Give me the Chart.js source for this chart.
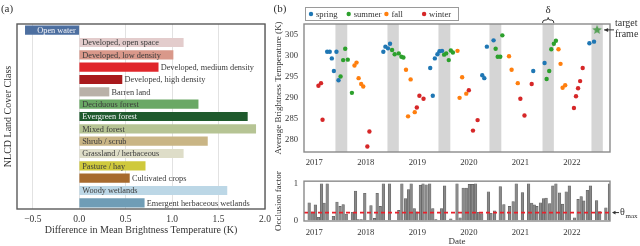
<!DOCTYPE html>
<html>
<head>
<meta charset="utf-8">
<script src="https://cdn.jsdelivr.net/npm/chart.js@4"></script>
<style>
  html, body { margin: 0; padding: 0; background: #fff; }
  #wrap { position: relative; width: 640px; height: 246px; overflow: hidden; }
  canvas { position: absolute; }
</style>
</head>
<body>
<div id="wrap">
  <canvas id="chartA" width="290" height="246" style="left:0;top:0;width:290px;height:246px"></canvas>
  <canvas id="chartB" width="390" height="172" style="left:250px;top:0;width:390px;height:172px"></canvas>
  <canvas id="chartOcc" width="390" height="80" style="left:250px;top:170px;width:390px;height:80px"></canvas>
</div>
<script>
// --- (a) land cover classes
const landClasses = ['Open water', 'Developed, open space', 'Developed, low density',
  'Developed, medium density', 'Developed, high density', 'Barren land', 'Deciduous forest',
  'Evergreen forest', 'Mixed forest', 'Shrub / scrub', 'Grassland / herbaceous', 'Pasture / hay',
  'Cultivated crops', 'Woody wetlands', 'Emergent herbaceous wetlands'];
const tempDiff = [-0.58, 1.12, 1.01, 0.85, 0.46, 0.32, 1.28, 1.81, 1.90, 1.38, 1.12, 0.71, 0.54, 1.59, 0.70];
const classColors = ['#4d6fa0', '#e3cccc', '#d9988a', '#e0262b', '#a8191c', '#b9b1a8', '#6aa865',
  '#1f5a2d', '#b6c494', '#c9b585', '#deddc8', '#cfc93c', '#a76a2e', '#bcd7e6', '#6f9db6'];
const diffTicks = [-0.5, 0, 0.5, 1.0, 1.5, 2.0];

// --- (b) brightness temperature by season, [year, K]
const springObs = [[2017.25, 301.0], [2017.30, 301.0], [2017.34, 299.4], [2017.38, 296.4], [2017.43, 301.0],
  [2017.47, 294.2], [2018.34, 301.0], [2018.38, 302.2], [2018.43, 301.8], [2018.47, 302.9],
  [2019.25, 297.1], [2019.30, 290.5], [2019.34, 299.4], [2019.39, 300.4], [2019.43, 301.1], [2019.48, 301.2],
  [2020.26, 295.4], [2020.30, 294.7], [2020.35, 302.2], [2020.48, 303.7], [2021.25, 296.4], [2021.47, 298.3],
  [2022.34, 303.0], [2022.43, 303.4]];
const summerObs = [[2017.51, 295.1], [2017.56, 299.0], [2017.60, 301.7], [2017.65, 299.1], [2017.73, 291.2],
  [2018.51, 301.4], [2018.56, 300.4], [2018.64, 300.6], [2018.69, 299.8], [2018.73, 299.6],
  [2019.52, 300.3], [2019.56, 300.6], [2019.61, 299.0], [2019.65, 301.3], [2019.69, 300.8],
  [2020.52, 301.7], [2020.56, 299.8], [2020.61, 299.8], [2020.65, 304.9],
  [2021.51, 294.5], [2021.56, 296.4], [2021.60, 301.6], [2021.65, 302.9], [2021.69, 303.6]];
const fallObs = [[2017.78, 297.7], [2017.82, 298.4], [2017.86, 294.7], [2017.91, 293.3], [2017.95, 292.7],
  [2018.78, 296.7], [2018.82, 285.6], [2018.87, 294.4], [2018.95, 286.6],
  [2019.78, 301.2], [2019.82, 290.0], [2019.87, 294.9], [2019.95, 291.0],
  [2020.78, 299.9], [2020.83, 296.7], [2020.95, 293.5],
  [2021.74, 301.6], [2021.78, 298.1], [2021.82, 292.4], [2021.87, 293.0]];
const winterObs = [[2017.08, 292.9], [2017.13, 293.5], [2017.16, 284.8], [2018.03, 278.4], [2018.07, 282.0],
  [2018.99, 287.7], [2019.04, 290.5], [2019.12, 289.8], [2020.00, 291.8], [2020.08, 282.2], [2020.17, 284.7],
  [2021.00, 289.8], [2021.08, 285.8], [2021.22, 293.3], [2022.04, 287.6], [2022.08, 290.4],
  [2022.12, 292.3], [2022.16, 294.0], [2022.21, 297.1]];
const targetObs = [[2022.49, 306.2]];
const gapStart = [2017.41, 2018.42, 2019.41, 2020.40, 2021.43, 2022.38];
const gapEnd = [2017.64, 2018.64, 2019.64, 2020.63, 2021.65, 2022.60];
const yearTicks = [2017, 2018, 2019, 2020, 2021, 2022];
const tempTicks = [280, 285, 290, 295, 300, 305];

// --- occlusion factor per acquisition
const occDates = [2016.90, 2016.96, 2017.02, 2017.08, 2017.14, 2017.19, 2017.25, 2017.37, 2017.44, 2017.50,
  2017.56, 2017.62, 2017.74, 2017.80, 2017.85, 2017.91, 2017.98, 2018.10, 2018.17, 2018.22, 2018.28, 2018.34,
  2018.46, 2018.64, 2018.70, 2018.77, 2018.83, 2018.88, 2018.94, 2018.99, 2019.06, 2019.11, 2019.17, 2019.24,
  2019.30, 2019.36, 2019.47, 2019.53, 2019.65, 2019.77, 2019.83, 2019.89, 2019.95, 2020.01, 2020.07, 2020.13,
  2020.19, 2020.25, 2020.38, 2020.43, 2020.50, 2020.61, 2020.68, 2020.79, 2020.86, 2020.92, 2021.04, 2021.16,
  2021.22, 2021.27, 2021.32, 2021.39, 2021.45, 2021.50, 2021.57, 2021.63, 2021.69, 2021.76, 2021.82, 2021.89,
  2021.95, 2022.05, 2022.12, 2022.18, 2022.23, 2022.30, 2022.36, 2022.48, 2022.54, 2022.66, 2022.73];
const occValues = [0.48, 0.23, 0.42, 0.08, 1.0, 0.47, 1.0, 0.11, 0.50, 0.38,
  0.43, 0.17, 0.22, 0.80, 0.02, 0.02, 0.74, 0.40, 0.05, 0.74, 0.38, 1.0,
  1.0, 0.27, 1.0, 0.59, 0.84, 1.0, 0.32, 0.23, 0.96, 1.0, 0.97, 1.0,
  0.32, 0.02, 0.32, 0.94, 0.04, 1.0, 0.07, 0.88, 0.88, 0.98, 0.98, 1.0,
  0.22, 0.18, 0.78, 0.19, 0.26, 0.92, 0.43, 0.38, 0.51, 1.0, 0.76, 1.0,
  0.47, 0.42, 0.38, 0.48, 0.59, 0.61, 0.46, 0.94, 1.0, 0.75, 0.44, 0.78,
  0.94, 0.07, 0.57, 0.65, 0.53, 0.82, 0.94, 0.54, 0.24, 0.34, 1.0];
const thetaMax = 0.21;

const X_MIN = 2016.8, X_MAX = 2022.74;

Chart.defaults.font.family = "'Liberation Serif', 'DejaVu Serif', serif";
Chart.defaults.color = '#333';
Chart.defaults.animation = false;

const toXY = arr => arr.map(([x, y]) => ({ x, y }));
const noGrid = { display: false, drawTicks: false };

// box around the plot area
function framePlugin(color, width) {
  return {
    id: 'frame',
    afterDraw(chart) {
      const { ctx, chartArea: a } = chart;
      ctx.save();
      ctx.strokeStyle = color;
      ctx.lineWidth = width;
      ctx.strokeRect(a.left, a.top, a.right - a.left, a.bottom - a.top);
      ctx.restore();
    }
  };
}

function tagPlugin(text, x, y) {
  return {
    id: 'tag',
    afterDraw(chart) {
      const ctx = chart.ctx;
      ctx.save();
      ctx.font = "11px 'Liberation Serif'";
      ctx.fillStyle = '#333';
      ctx.textAlign = 'center';
      ctx.textBaseline = 'middle';
      ctx.fillText(text, x, y);
      ctx.restore();
    }
  };
}

function luminance(hex) {
  const n = parseInt(hex.slice(1), 16);
  return (0.299 * (n >> 16) + 0.587 * ((n >> 8) & 255) + 0.114 * (n & 255)) / 255;
}

// class names inside the bar when they fit, otherwise after it
const barLabels = {
  id: 'barLabels',
  afterDatasetsDraw(chart) {
    const ctx = chart.ctx;
    const meta = chart.getDatasetMeta(0);
    ctx.save();
    ctx.font = "8.3px 'Liberation Serif'";
    ctx.textBaseline = 'middle';
    meta.data.forEach((bar, i) => {
      const text = chart.data.labels[i];
      const w = ctx.measureText(text).width;
      const len = Math.abs(bar.x - bar.base);
      const neg = bar.x < bar.base;
      if (w + 5 < len) {
        ctx.fillStyle = luminance(classColors[i]) < 0.45 ? '#f4f4f8' : '#3a3a3a';
        ctx.textAlign = neg ? 'right' : 'left';
        ctx.fillText(text, neg ? bar.base - 3 : bar.base + 2.5, bar.y + 0.5);
      } else {
        ctx.fillStyle = '#3a3a3a';
        ctx.textAlign = 'left';
        ctx.fillText(text, bar.x + 2.5, bar.y + 0.5);
      }
    });
    ctx.restore();
  }
};

new Chart(document.getElementById('chartA'), {
  type: 'bar',
  data: {
    labels: landClasses,
    datasets: [{ data: tempDiff, backgroundColor: classColors, barThickness: 8.5, borderWidth: 0 }]
  },
  options: {
    indexAxis: 'y',
    responsive: false,
    layout: { padding: { top: 24, right: 25, left: 0, bottom: 0 } },
    plugins: { legend: { display: false }, tooltip: { enabled: false } },
    scales: {
      x: {
        type: 'linear', min: -0.67, max: 2.0,
        afterBuildTicks: s => { s.ticks = diffTicks.map(v => ({ value: v })); },
        grid: { color: '#e2e2e2', drawTicks: false },
        border: { display: false },
        ticks: { padding: 5, font: { size: 9.5 }, callback: v => (v < 0 ? '\u2212' : '') + Math.abs(v).toFixed(1) },
        title: { display: true, text: 'Difference in Mean Brightness Temperature (K)', font: { size: 10 }, padding: { top: 0, bottom: 10 } },
        afterFit: s => { s.height = 37; }
      },
      y: {
        ticks: { display: false },
        grid: noGrid,
        border: { display: false },
        title: { display: true, text: 'NLCD Land Cover Class', font: { size: 10 }, padding: { top: 2, bottom: 0 } },
        afterFit: s => { s.width = 17; }
      }
    }
  },
  plugins: [framePlugin('#5a5a5a', 1.4), barLabels, tagPlugin('(a)', 7, 9)]
});

// --- (b) scatter
const seasonNames = ['spring', 'summer', 'fall', 'winter'];
const seasonColors = ['#1f77b4', '#2ca02c', '#ff7f0e', '#d62728'];

function starImage(color, r) {
  const c = document.createElement('canvas');
  c.width = c.height = r * 2 + 2;
  const g = c.getContext('2d');
  g.beginPath();
  for (let i = 0; i < 10; i++) {
    const rad = i % 2 ? r * 0.45 : r;
    const a = -Math.PI / 2 + i * Math.PI / 5;
    g.lineTo(c.width / 2 + rad * Math.cos(a), c.height / 2 + rad * Math.sin(a));
  }
  g.closePath();
  g.fillStyle = color;
  g.fill();
  return c;
}

const gapBands = {
  id: 'gapBands',
  beforeDatasetsDraw(chart) {
    const { ctx, chartArea: a, scales: { x } } = chart;
    ctx.save();
    ctx.fillStyle = '#d5d5d5';
    gapStart.forEach((s, i) => {
      const x0 = x.getPixelForValue(s), x1 = x.getPixelForValue(gapEnd[i]);
      ctx.fillRect(x0, a.top, x1 - x0, a.bottom - a.top);
    });
    ctx.restore();
  }
};

const seasonLegend = {
  id: 'seasonLegend',
  afterDraw(chart) {
    const ctx = chart.ctx;
    ctx.save();
    ctx.strokeStyle = '#9a9a9a';
    ctx.lineWidth = 1;
    ctx.strokeRect(55.5, 7.5, 153, 13);
    ctx.font = "8.6px 'Liberation Serif'";
    ctx.textBaseline = 'middle';
    ctx.textAlign = 'left';
    seasonNames.forEach((name, i) => {
      const cx = 61 + i * 37.7;
      ctx.fillStyle = seasonColors[i];
      ctx.beginPath();
      ctx.arc(cx, 14, 2.2, 0, Math.PI * 2);
      ctx.fill();
      ctx.fillStyle = '#333';
      ctx.fillText(name, cx + 5, 14.5);
    });
    ctx.restore();
  }
};

const notes = {
  id: 'notes',
  afterDraw(chart) {
    const { ctx, chartArea: a, scales: { x, y } } = chart;
    ctx.save();
    ctx.strokeStyle = '#333';
    ctx.fillStyle = '#333';
    ctx.lineWidth = 1;
    // delta brace over the 2021 gap
    const b0 = x.getPixelForValue(gapStart[4]), b1 = x.getPixelForValue(gapEnd[4]);
    const bm = (b0 + b1) / 2, yb = 23;
    ctx.beginPath();
    ctx.moveTo(b0, yb);
    ctx.quadraticCurveTo(b0, yb - 3, b0 + 2.5, yb - 3);
    ctx.lineTo(bm - 2, yb - 3);
    ctx.quadraticCurveTo(bm, yb - 3, bm, yb - 5.5);
    ctx.quadraticCurveTo(bm, yb - 3, bm + 2, yb - 3);
    ctx.lineTo(b1 - 2.5, yb - 3);
    ctx.quadraticCurveTo(b1, yb - 3, b1, yb);
    ctx.stroke();
    ctx.font = "11px 'Liberation Serif'";
    ctx.textAlign = 'center';
    ctx.textBaseline = 'middle';
    ctx.fillText('\u03b4', bm, 10);
    // target frame arrow
    const sx = x.getPixelForValue(targetObs[0][0]), sy = y.getPixelForValue(targetObs[0][1]);
    const tail = a.right + 4, head = sx + 7;
    ctx.beginPath();
    ctx.moveTo(tail, sy);
    ctx.lineTo(head, sy);
    ctx.stroke();
    ctx.beginPath();
    ctx.moveTo(head, sy);
    ctx.lineTo(head + 4, sy - 2);
    ctx.lineTo(head + 4, sy + 2);
    ctx.closePath();
    ctx.fill();
    ctx.font = "10px 'Liberation Serif'";
    ctx.textAlign = 'left';
    ctx.fillText('target', a.right + 5, 23);
    ctx.fillText('frame', a.right + 5, 34);
    ctx.restore();
  }
};

const seasonSets = [springObs, summerObs, fallObs, winterObs].map((obs, i) => ({
  label: seasonNames[i],
  data: toXY(obs),
  backgroundColor: seasonColors[i],
  borderWidth: 0,
  pointRadius: 2.2
}));

new Chart(document.getElementById('chartB'), {
  type: 'scatter',
  data: {
    datasets: [...seasonSets, {
      label: 'target',
      data: toXY(targetObs),
      pointStyle: starImage('#55a055', 5),
      pointRadius: 5
    }]
  },
  options: {
    responsive: false,
    layout: { padding: { top: 24, right: 30, left: 0, bottom: 0 } },
    plugins: { legend: { display: false }, tooltip: { enabled: false } },
    scales: {
      x: {
        type: 'linear', min: X_MIN, max: X_MAX,
        afterBuildTicks: s => { s.ticks = yearTicks.map(v => ({ value: v })); },
        grid: noGrid,
        border: { display: false },
        ticks: { padding: 6, font: { size: 8.6 }, callback: v => String(v) },
        afterFit: s => { s.height = 20; }
      },
      y: {
        min: 277.1, max: 307.6,
        afterBuildTicks: s => { s.ticks = tempTicks.map(v => ({ value: v })); },
        grid: noGrid,
        border: { display: false },
        ticks: { padding: 6, font: { size: 8.6 } },
        title: { display: true, text: 'Average Brightness Temperature (K)', font: { size: 9 }, padding: { top: 23, bottom: 0 } },
        afterFit: s => { s.width = 54; }
      }
    }
  },
  plugins: [gapBands, framePlugin('#8a8a8a', 1.4), seasonLegend, notes, tagPlugin('(b)', 30, 9)]
});

// --- occlusion factor
const thetaNote = {
  id: 'thetaNote',
  afterDraw(chart) {
    const { ctx, chartArea: a, scales: { y } } = chart;
    const ty = y.getPixelForValue(thetaMax);
    ctx.save();
    ctx.strokeStyle = '#333';
    ctx.fillStyle = '#333';
    ctx.lineWidth = 1;
    ctx.beginPath();
    ctx.moveTo(a.right + 9, ty);
    ctx.lineTo(a.right + 3, ty);
    ctx.stroke();
    ctx.beginPath();
    ctx.moveTo(a.right + 2, ty);
    ctx.lineTo(a.right + 5.5, ty - 1.8);
    ctx.lineTo(a.right + 5.5, ty + 1.8);
    ctx.closePath();
    ctx.fill();
    ctx.textBaseline = 'middle';
    ctx.font = "10px 'Liberation Serif'";
    ctx.fillText('\u03b8', a.right + 10, ty);
    ctx.font = "7px 'Liberation Serif'";
    ctx.fillText('max', a.right + 15.5, ty + 4);
    ctx.restore();
  }
};

new Chart(document.getElementById('chartOcc'), {
  type: 'bar',
  data: {
    datasets: [{
      type: 'line',
      data: [{ x: X_MIN, y: thetaMax }, { x: X_MAX, y: thetaMax }],
      borderColor: '#e8202a', borderWidth: 1.6, borderDash: [4, 3],
      pointRadius: 0, order: 0
    }, {
      type: 'bar',
      data: occDates.map((d, i) => ({ x: d, y: occValues[i] })),
      backgroundColor: '#8a8a8a', borderColor: '#5e5e5e', borderWidth: 0.6,
      barThickness: 2.6, order: 1
    }]
  },
  options: {
    responsive: false,
    layout: { padding: { top: 8, right: 30, left: 0, bottom: 0 } },
    plugins: { legend: { display: false }, tooltip: { enabled: false } },
    scales: {
      x: {
        type: 'linear', min: X_MIN, max: X_MAX, offset: false,
        afterBuildTicks: s => { s.ticks = yearTicks.map(v => ({ value: v })); },
        grid: noGrid,
        border: { display: false },
        ticks: { padding: 7, font: { size: 8.6 }, callback: v => String(v) },
        title: { display: true, text: 'Date', font: { size: 9 }, padding: { top: 0, bottom: 2.5 } },
        afterFit: s => { s.height = 29; }
      },
      y: {
        min: -0.02, max: 1.07,
        afterBuildTicks: s => { s.ticks = [0, 1].map(v => ({ value: v })); },
        grid: noGrid,
        border: { display: false },
        ticks: { padding: 6, font: { size: 8.6 } },
        title: { display: true, text: 'Occlusion factor', font: { size: 9 }, padding: { top: 23, bottom: 0 } },
        afterFit: s => { s.width = 54; }
      }
    }
  },
  plugins: [framePlugin('#8a8a8a', 1.4), thetaNote]
});
</script>
</body>
</html>
